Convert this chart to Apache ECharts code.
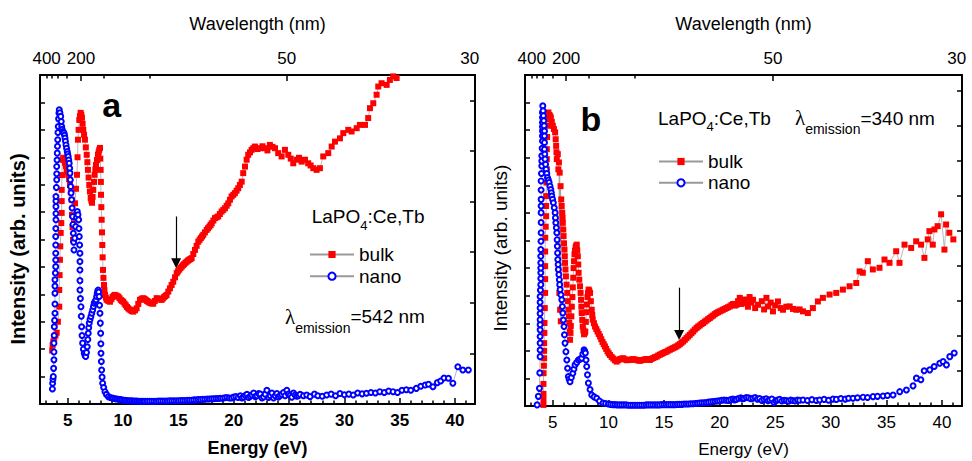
<!DOCTYPE html>
<html>
<head>
<meta charset="utf-8">
<script src="https://cdn.jsdelivr.net/npm/echarts@6/dist/echarts.min.js"></script>
<style>
  html, body { margin: 0; padding: 0; background: #fff; }
  #chart { width: 972px; height: 461px; }
</style>
</head>
<body>
<div id="chart"></div>
<script>
// Excitation spectra of LaPO4:Ce,Tb (bulk vs nano), two panels.
// Each point is [photon energy (eV), intensity (arb. units)].

const bulkA = [
  [3.60,1.95],[3.64,2.15],[3.70,2.28],[3.79,2.41],[3.90,2.50],[4.01,2.60],[4.12,3.00],[4.24,3.55],[4.24,4.16],
  [4.27,4.70],[4.30,5.26],[4.33,5.75],[4.37,6.24],[4.42,6.60],[4.46,6.97],[4.46,7.40],[4.46,7.81],[4.49,8.35],
  [4.51,8.91],[4.60,8.98],[4.68,8.90],[4.76,8.80],[4.84,8.68],[4.91,8.54],[4.98,8.45],[5.05,8.36],[5.13,8.20],
  [5.21,7.99],[5.29,7.72],[5.36,7.45],[5.39,6.90],[5.44,6.45],[5.48,5.99],[5.57,6.65],[5.66,7.32],[5.75,7.85],
  [5.84,8.36],[5.89,9.00],[5.93,9.64],[5.99,10.00],[6.05,10.36],[6.11,10.50],[6.17,10.62],[6.23,10.55],[6.29,10.44],
  [6.35,10.22],[6.41,10.00],[6.48,9.82],[6.56,9.64],[6.64,9.36],[6.72,9.09],[6.78,8.82],[6.83,8.54],[6.89,8.26],
  [6.95,7.99],[7.01,7.75],[7.08,7.52],[7.14,7.42],[7.20,7.34],[7.25,7.55],[7.31,7.81],[7.38,8.10],[7.44,8.36],
  [7.50,8.55],[7.56,8.72],[7.65,8.90],[7.74,9.09],[7.80,9.18],[7.85,9.27],[7.92,9.34],[7.95,8.95],[7.98,8.54],
  [8.00,8.10],[8.01,7.63],[8.04,7.18],[8.07,6.72],[8.10,6.26],[8.13,5.80],[8.16,5.35],[8.19,4.89],[8.23,4.60],
  [8.28,4.34],[8.32,4.15],[8.37,3.98],[8.45,3.88],[8.52,3.80],[8.67,3.76],[8.82,3.73],[8.95,3.82],[9.05,3.90],
  [9.16,3.95],[9.27,3.98],[9.42,3.95],[9.57,3.92],[9.68,3.86],[9.80,3.80],[9.91,3.76],[10.02,3.73],[10.14,3.66],
  [10.25,3.60],[10.36,3.54],[10.47,3.49],[10.58,3.45],[10.70,3.42],[10.81,3.39],[10.93,3.37],[11.08,3.42],[11.23,3.49],
  [11.38,3.65],[11.53,3.80],[11.68,3.84],[11.83,3.86],[11.94,3.83],[12.05,3.80],[12.17,3.76],[12.28,3.73],[12.39,3.70],
  [12.50,3.68],[12.62,3.67],[12.73,3.66],[12.88,3.76],[13.04,3.86],[13.15,3.84],[13.27,3.83],[13.38,3.81],[13.49,3.80],
  [13.60,3.85],[13.72,3.90],[13.83,3.94],[13.94,3.98],[14.09,4.10],[14.24,4.22],[14.39,4.34],[14.54,4.46],[14.70,4.62],
  [14.85,4.77],[14.96,4.84],[15.08,4.90],[15.19,4.96],[15.30,5.01],[15.41,5.06],[15.52,5.10],[15.64,5.15],[15.75,5.19],
  [15.87,5.23],[15.98,5.26],[16.09,5.29],[16.20,5.32],[16.35,5.47],[16.50,5.62],[16.65,5.77],[16.80,5.92],[16.92,5.99],
  [17.03,6.05],[17.14,6.11],[17.25,6.17],[17.40,6.26],[17.56,6.35],[17.68,6.41],[17.80,6.47],[17.91,6.53],[18.01,6.59],
  [18.16,6.69],[18.31,6.78],[18.46,6.81],[18.60,6.84],[18.75,6.93],[18.91,7.02],[19.06,7.08],[19.21,7.14],[19.36,7.23],
  [19.51,7.32],[19.66,7.45],[19.81,7.57],[19.96,7.63],[20.11,7.69],[20.26,7.78],[20.41,7.87],[20.56,7.99],[20.72,8.11],
  [20.86,8.42],[21.02,8.66],[21.17,8.91],[21.31,9.09],[21.47,9.18],[21.62,9.27],[21.77,9.33],[21.92,9.39],[22.15,9.30],
  [22.37,9.33],[22.60,9.40],[22.82,9.33],[23.05,9.25],[23.27,9.45],[23.50,9.38],[23.73,9.33],[24.02,9.15],[24.33,9.03],
  [24.63,9.27],[24.93,9.09],[25.15,8.95],[25.38,8.78],[25.69,8.91],[25.90,8.98],[26.14,8.84],[26.44,8.91],[26.73,8.78],
  [26.95,8.70],[27.19,8.60],[27.49,8.54],[27.79,8.60],[28.09,9.03],[28.54,9.15],[28.85,9.39],[29.15,9.57],[29.60,9.69],
  [29.90,9.88],[30.35,10.00],[30.65,9.94],[31.11,10.06],[31.40,10.18],[31.86,10.18],[32.15,10.43],[32.31,10.79],
  [32.61,10.97],[32.91,11.28],[33.06,11.58],[33.36,11.70],[33.82,11.64],[34.11,11.82],[34.41,11.95],[34.72,11.89]
];

const nanoA = [
  [3.62,0.55],[3.64,0.76],[3.67,0.90],[3.70,1.00],[3.73,1.30],[3.76,1.61],[3.76,1.90],[3.76,2.22],[3.78,2.50],
  [3.79,2.82],[3.82,3.05],[3.85,3.31],[3.85,3.65],[3.85,4.04],[3.85,4.30],[3.85,4.53],[3.89,4.78],[3.92,5.01],
  [3.92,5.25],[3.92,5.50],[3.92,5.80],[3.92,6.11],[3.93,6.40],[3.94,6.72],[3.94,6.95],[3.94,7.20],[3.94,7.40],
  [3.94,7.57],[3.98,7.90],[4.01,8.18],[4.01,8.40],[4.01,8.66],[4.04,8.90],[4.06,9.15],[4.08,9.40],[4.10,9.64],
  [4.12,9.90],[4.15,10.12],[4.18,10.40],[4.21,10.61],[4.24,10.73],[4.30,10.62],[4.37,10.49],[4.42,10.30],[4.46,10.12],
  [4.50,10.02],[4.55,9.94],[4.61,9.90],[4.67,9.88],[4.72,9.80],[4.76,9.70],[4.80,9.58],[4.85,9.45],[4.90,9.33],
  [4.96,9.21],[5.00,9.12],[5.05,9.03],[5.10,8.90],[5.14,8.78],[5.18,8.60],[5.21,8.42],[5.24,8.18],[5.27,7.93],
  [5.31,7.70],[5.36,7.45],[5.40,7.15],[5.45,6.84],[5.48,6.55],[5.51,6.23],[5.54,5.90],[5.57,5.62],[5.64,6.05],
  [5.72,6.47],[5.80,6.80],[5.87,7.02],[5.93,6.90],[5.99,6.72],[6.02,6.40],[6.05,6.11],[6.08,5.80],[6.11,5.50],
  [6.11,5.20],[6.11,4.89],[6.11,4.50],[6.11,4.16],[6.15,3.85],[6.20,3.55],[6.23,3.20],[6.26,2.82],[6.30,2.50],
  [6.35,2.22],[6.42,2.00],[6.50,1.85],[6.57,1.77],[6.63,1.73],[6.70,1.88],[6.77,2.09],[6.82,2.35],[6.86,2.58],
  [6.90,2.78],[6.95,2.95],[7.02,3.08],[7.10,3.19],[7.18,3.31],[7.26,3.43],[7.33,3.56],[7.40,3.68],[7.48,3.74],
  [7.56,3.80],[7.62,3.92],[7.67,4.04],[7.72,4.12],[7.76,4.16],[7.80,4.08],[7.85,3.92],[7.88,3.60],[7.92,3.31],
  [7.95,2.95],[7.98,2.58],[8.00,2.20],[8.01,1.85],[8.04,1.55],[8.07,1.24],[8.11,0.98],[8.16,0.76],[8.25,0.60],
  [8.37,0.45],[8.50,0.35],[8.67,0.27],[8.85,0.24],[9.00,0.22],[9.12,0.21],[9.30,0.19],[9.45,0.18],[9.60,0.17],
  [9.75,0.16],[9.90,0.15],[10.05,0.14],[10.20,0.14],[10.35,0.13],[10.50,0.12],[10.65,0.12],[10.80,0.12],[10.95,0.11],
  [11.10,0.11],[11.25,0.11],[11.40,0.10],[11.55,0.10],[11.70,0.10],[11.85,0.10],[12.00,0.10],[12.20,0.10],[12.40,0.10],
  [12.60,0.10],[12.80,0.10],[13.00,0.10],[13.20,0.11],[13.40,0.11],[13.60,0.11],[13.80,0.11],[14.00,0.11],[14.20,0.12],
  [14.40,0.12],[14.60,0.12],[14.80,0.12],[15.00,0.12],[15.20,0.13],[15.40,0.13],[15.60,0.13],[15.80,0.14],[16.00,0.14],
  [16.20,0.14],[16.40,0.15],[16.60,0.15],[16.80,0.16],[17.00,0.16],[17.20,0.17],[17.40,0.17],[17.60,0.18],[17.80,0.18],
  [18.00,0.19],[18.20,0.19],[18.40,0.20],[18.60,0.20],[18.80,0.21],[19.00,0.21],[19.20,0.23],[19.40,0.24],[19.60,0.22],
  [19.80,0.22],[20.00,0.25],[20.20,0.27],[20.40,0.24],[20.60,0.30],[20.75,0.22],[20.90,0.25],[21.05,0.31],[21.20,0.35],
  [21.35,0.24],[21.50,0.28],[21.65,0.33],[21.80,0.40],[21.95,0.27],[22.10,0.30],[22.25,0.38],[22.40,0.36],[22.55,0.22],
  [22.70,0.26],[22.85,0.36],[23.00,0.50],[23.15,0.24],[23.30,0.30],[23.45,0.40],[23.60,0.22],[23.75,0.30],[23.90,0.38],
  [24.05,0.26],[24.20,0.30],[24.35,0.35],[24.50,0.42],[24.65,0.30],[24.80,0.50],[24.95,0.36],[25.10,0.32],[25.25,0.25],
  [25.40,0.40],[25.55,0.33],[25.70,0.28],[25.85,0.30],[26.00,0.35],[26.30,0.30],[26.60,0.33],[26.90,0.27],[27.30,0.36],
  [27.60,0.30],[28.00,0.28],[28.40,0.33],[28.80,0.36],[29.20,0.30],[29.60,0.38],[30.00,0.34],[30.40,0.36],[30.80,0.33],
  [31.20,0.40],[31.60,0.37],[32.00,0.39],[32.40,0.42],[32.80,0.40],[33.20,0.45],[33.60,0.42],[34.00,0.47],[34.40,0.45],
  [34.80,0.42],[35.20,0.50],[35.60,0.52],[36.00,0.50],[36.50,0.57],[36.90,0.65],[37.30,0.69],[37.60,0.72],[38.00,0.63],
  [38.40,0.78],[38.70,0.84],[39.00,0.95],[39.40,0.94],[39.80,0.76],[40.25,1.36],[40.70,1.24],[41.20,1.24]
];

const bulkB = [
  [4.16,0.04],[4.16,0.24],[4.16,0.44],[4.16,0.80],[4.17,1.19],[4.20,1.46],[4.22,1.73],[4.22,2.00],[4.22,2.28],
  [4.24,2.65],[4.25,3.01],[4.28,3.55],[4.31,4.10],[4.31,4.60],[4.31,5.07],[4.31,5.60],[4.32,6.10],[4.36,6.50],
  [4.40,6.88],[4.40,7.25],[4.40,7.61],[4.43,8.10],[4.46,8.58],[4.46,8.95],[4.46,9.31],[4.49,9.75],[4.52,10.16],
  [4.57,10.40],[4.61,10.64],[4.70,10.55],[4.76,10.50],[4.82,10.46],[4.91,10.30],[5.00,10.16],[5.10,10.04],[5.21,9.92],
  [5.26,9.67],[5.30,9.43],[5.33,9.20],[5.36,8.95],[5.45,9.13],[5.50,8.58],[5.55,8.83],[5.59,4.10],[5.62,8.46],
  [5.66,3.49],[5.70,7.97],[5.72,3.07],[5.76,7.49],[5.80,7.25],[5.85,7.01],[5.88,6.82],[5.90,6.64],[5.94,6.40],
  [5.97,6.16],[6.01,5.90],[6.05,5.67],[6.08,5.43],[6.10,5.19],[6.14,4.95],[6.18,4.70],[6.24,4.40],[6.30,4.10],
  [6.35,3.80],[6.40,3.49],[6.44,3.25],[6.48,3.01],[6.52,2.70],[6.55,2.40],[6.59,2.65],[6.62,2.90],[6.67,3.25],
  [6.71,3.60],[6.76,3.95],[6.80,4.30],[6.84,4.65],[6.87,5.00],[6.91,5.25],[6.95,5.50],[7.00,5.63],[7.05,5.75],
  [7.10,5.80],[7.15,5.85],[7.20,5.65],[7.25,5.43],[7.29,5.13],[7.32,4.83],[7.38,4.58],[7.45,4.34],[7.50,4.10],
  [7.54,3.85],[7.57,3.60],[7.60,3.37],[7.65,3.12],[7.69,2.88],[7.75,2.74],[7.81,2.60],[7.87,2.65],[7.92,2.70],
  [7.97,3.05],[8.02,3.40],[8.07,3.68],[8.12,3.95],[8.17,4.10],[8.22,4.22],[8.28,4.18],[8.35,4.10],[8.42,3.80],
  [8.50,3.49],[8.55,3.30],[8.59,3.13],[8.70,3.00],[8.80,2.88],[8.91,2.79],[9.02,2.70],[9.13,2.61],[9.25,2.52],
  [9.36,2.42],[9.47,2.32],[9.58,2.24],[9.69,2.16],[9.80,2.07],[9.92,1.98],[10.03,1.91],[10.14,1.85],[10.29,1.78],
  [10.44,1.72],[10.59,1.66],[10.74,1.61],[10.89,1.66],[11.04,1.70],[11.19,1.72],[11.34,1.73],[11.49,1.69],[11.64,1.66],
  [11.79,1.67],[11.94,1.67],[12.09,1.69],[12.24,1.70],[12.39,1.68],[12.54,1.67],[12.69,1.65],[12.84,1.64],[12.99,1.66],
  [13.13,1.67],[13.28,1.69],[13.43,1.70],[13.58,1.68],[13.73,1.67],[13.89,1.71],[14.04,1.74],[14.19,1.77],[14.34,1.79],
  [14.48,1.83],[14.63,1.86],[14.78,1.89],[14.93,1.92],[15.08,1.95],[15.23,1.97],[15.38,2.01],[15.53,2.04],[15.68,2.07],
  [15.83,2.10],[15.98,2.13],[16.13,2.16],[16.28,2.20],[16.42,2.24],[16.57,2.29],[16.72,2.34],[16.87,2.40],[17.02,2.46],
  [17.17,2.52],[17.32,2.58],[17.47,2.64],[17.62,2.70],[17.77,2.77],[17.93,2.83],[18.07,2.88],[18.22,2.92],[18.37,2.97],
  [18.52,3.01],[18.67,3.06],[18.82,3.10],[18.97,3.15],[19.12,3.19],[19.27,3.24],[19.42,3.28],[19.57,3.33],[19.72,3.37],
  [19.86,3.40],[20.01,3.43],[20.16,3.46],[20.31,3.49],[20.46,3.52],[20.61,3.55],[20.76,3.58],[20.91,3.61],[21.07,3.66],
  [21.22,3.70],[21.37,3.64],[21.52,3.67],[21.66,3.80],[21.81,3.92],[21.95,3.70],[22.10,3.78],[22.25,3.86],[22.41,3.73],
  [22.55,3.60],[22.70,3.95],[22.85,3.75],[23.01,3.85],[23.20,3.55],[23.46,3.67],[23.80,3.80],[24.00,3.50],[24.21,3.92],
  [24.35,3.61],[24.60,3.75],[24.80,3.43],[25.00,3.65],[25.25,3.79],[25.50,3.55],[25.70,3.49],[26.00,3.60],[26.30,3.61],
  [26.60,3.52],[26.90,3.49],[27.20,3.50],[27.50,3.43],[27.94,3.37],[28.39,3.55],[28.84,3.79],[29.29,3.92],[29.89,4.04],
  [30.49,4.10],[31.09,4.22],[31.69,4.34],[32.29,4.46],[32.59,4.88],[32.88,4.83],[33.33,5.25],[33.78,4.95],[34.38,5.01],
  [34.83,5.31],[35.28,5.19],[35.88,5.61],[36.18,5.19],[36.63,5.85],[37.23,5.73],[37.68,5.97],[38.12,5.85],[38.42,5.37],
  [38.72,6.04],[38.87,6.34],[39.17,5.85],[39.32,6.40],[39.61,6.52],[39.92,6.95],[40.22,5.67],[40.37,6.58],[40.66,6.28],
  [41.02,6.04]
];

const nanoB = [
  [3.59,0.04],[3.70,0.35],[3.80,0.64],[3.83,1.20],[3.86,1.79],[3.86,2.03],[3.86,2.28],[3.86,2.52],[3.86,2.76],
  [3.86,2.95],[3.86,3.13],[3.86,3.35],[3.86,3.55],[3.86,3.76],[3.86,3.97],[3.89,4.20],[3.92,4.40],[3.92,4.62],
  [3.92,4.83],[3.92,5.00],[3.92,5.19],[3.92,5.43],[3.92,5.67],[3.94,5.97],[3.95,6.28],[3.95,6.65],[3.95,7.01],
  [3.95,7.25],[3.95,7.49],[3.95,7.83],[3.95,8.16],[3.98,8.43],[4.01,8.70],[4.01,8.88],[4.01,9.07],[4.04,9.34],
  [4.07,9.61],[4.07,9.79],[4.07,9.97],[4.07,10.12],[4.07,10.28],[4.07,10.46],[4.07,10.64],[4.10,10.88],[4.13,10.70],
  [4.16,10.52],[4.19,10.34],[4.22,10.16],[4.25,9.97],[4.25,9.79],[4.25,9.55],[4.25,9.31],[4.28,9.13],[4.31,8.95],
  [4.35,8.76],[4.40,8.58],[4.46,8.43],[4.52,8.28],[4.60,8.19],[4.67,8.10],[4.75,7.97],[4.82,7.85],[4.87,7.73],
  [4.91,7.61],[4.98,7.49],[5.05,7.37],[5.13,7.19],[5.21,7.01],[5.24,6.82],[5.27,6.64],[5.32,6.46],[5.36,6.28],
  [5.39,6.03],[5.41,5.79],[5.43,5.55],[5.45,5.31],[5.48,5.13],[5.50,4.95],[5.55,4.77],[5.59,4.58],[5.62,4.40],
  [5.66,4.22],[5.73,4.03],[5.81,3.85],[5.86,3.61],[5.90,3.37],[5.95,3.12],[6.01,2.88],[6.05,2.58],[6.10,2.28],
  [6.18,1.97],[6.26,1.67],[6.33,1.37],[6.40,1.07],[6.47,0.97],[6.55,0.88],[6.67,1.03],[6.80,1.19],[6.90,1.34],
  [7.00,1.49],[7.15,1.58],[7.30,1.67],[7.45,1.70],[7.60,1.73],[7.70,1.88],[7.81,2.04],[7.87,1.98],[7.93,1.92],
  [7.99,1.67],[8.05,1.43],[8.12,1.13],[8.20,0.83],[8.35,0.60],[8.50,0.40],[8.72,0.33],[8.95,0.28],[9.20,0.18],
  [9.52,0.11],[9.75,0.09],[10.00,0.07],[10.20,0.06],[10.40,0.05],[10.60,0.05],[10.80,0.04],[11.00,0.04],[11.20,0.04],
  [11.40,0.04],[11.60,0.04],[11.80,0.03],[12.00,0.03],[12.20,0.03],[12.40,0.03],[12.60,0.03],[12.80,0.03],[13.00,0.03],
  [13.20,0.03],[13.40,0.04],[13.60,0.04],[13.80,0.04],[14.00,0.04],[14.20,0.04],[14.40,0.04],[14.60,0.04],[14.80,0.05],
  [15.00,0.05],[15.20,0.05],[15.40,0.05],[15.60,0.05],[15.80,0.05],[16.00,0.05],[16.20,0.06],[16.40,0.06],[16.60,0.06],
  [16.80,0.07],[17.00,0.07],[17.20,0.07],[17.40,0.08],[17.60,0.08],[17.80,0.09],[18.00,0.10],[18.20,0.11],[18.40,0.12],
  [18.60,0.12],[18.80,0.13],[19.00,0.14],[19.20,0.15],[19.40,0.16],[19.60,0.17],[19.80,0.18],[20.00,0.19],[20.20,0.21],
  [20.40,0.22],[20.60,0.21],[20.80,0.20],[21.00,0.23],[21.20,0.25],[21.35,0.22],[21.50,0.24],[21.70,0.27],[21.90,0.30],
  [22.05,0.26],[22.20,0.27],[22.40,0.31],[22.60,0.30],[22.80,0.26],[23.00,0.28],[23.20,0.31],[23.40,0.25],[23.60,0.27],
  [23.80,0.20],[24.00,0.24],[24.20,0.26],[24.35,0.19],[24.50,0.22],[24.70,0.25],[24.90,0.13],[25.05,0.19],[25.20,0.22],
  [25.40,0.24],[25.60,0.18],[25.80,0.21],[26.00,0.20],[26.20,0.17],[26.40,0.22],[26.60,0.20],[26.80,0.18],[27.00,0.22],
  [27.20,0.21],[27.50,0.22],[27.90,0.20],[28.30,0.23],[28.70,0.20],[29.00,0.22],[29.40,0.24],[29.80,0.21],[30.20,0.25],
  [30.50,0.24],[30.90,0.27],[31.30,0.25],[31.60,0.28],[32.00,0.28],[32.40,0.30],[32.90,0.32],[33.30,0.31],[33.80,0.34],
  [34.20,0.35],[34.70,0.36],[35.10,0.38],[35.60,0.40],[36.20,0.52],[36.80,0.58],[37.40,0.73],[37.70,1.01],[38.10,0.95],
  [38.40,1.28],[38.90,1.31],[39.30,1.43],[39.80,1.55],[40.10,1.61],[40.40,1.49],[40.70,1.79],[41.10,1.92]
];

// Energy axis (bottom) ticks, eV
const energyLabels = [5, 10, 15, 20, 25, 30, 35, 40];
const energyMinor = [3,4,6,7,8,9,11,12,13,14,16,17,18,19,21,22,23,24,26,27,28,29,31,32,33,34,36,37,38,39,41];
// Wavelength axis (top) ticks, nm
const wavelengthLabels = [400, 200, 50, 30];
const wavelengthMajor = [200, 50];
const wavelengthMinor = [400, 350, 300, 250, 150, 100];

// Arrows marking the onset feature: [energy, start intensity, end intensity]
const arrowA = [14.8, 6.84, 5.13];
const arrowB = [16.36, 4.29, 2.57];

const HC = 1239.84; // eV*nm
const toEnergy = nm => HC / nm;
const FONT = "'Liberation Sans', Arial, Helvetica, sans-serif";
const E_MIN = 2.5, E_MAX = 41.8;

function bottomAxis(gridIndex, bold, major) {
  return {
    type: 'value', gridIndex, position: 'bottom', min: E_MIN, max: E_MAX,
    axisLine: { show: major, onZero: false, lineStyle: { color: '#000', width: 2 } },
    axisTick: { show: true, inside: true, length: major ? 6 : 3.5,
      customValues: major ? energyLabels : energyMinor, lineStyle: { color: '#000', width: 1.5 } },
    axisLabel: { show: major, customValues: energyLabels, margin: 8, color: '#000',
      fontSize: 17, fontFamily: FONT, fontWeight: bold ? 'bold' : 'normal' },
    splitLine: { show: false },
    name: major ? 'Energy (eV)' : '', nameLocation: 'middle', nameGap: 35, nameMoveOverlap: false,
    nameTextStyle: { fontSize: bold ? 18 : 17, fontFamily: FONT, color: '#000', fontWeight: bold ? 'bold' : 'normal' }
  };
}

function topAxis(gridIndex, major) {
  return {
    type: 'value', gridIndex, position: 'top', min: E_MIN, max: E_MAX,
    axisLine: { show: major, onZero: false, lineStyle: { color: '#000', width: 2 } },
    axisTick: { show: true, inside: true, length: major ? 6 : 3.5,
      customValues: (major ? wavelengthMajor : wavelengthMinor).map(toEnergy),
      lineStyle: { color: '#000', width: 1.5 } },
    axisLabel: { show: major, customValues: wavelengthLabels.map(toEnergy), margin: 8, color: '#000',
      fontSize: 17, fontFamily: FONT, formatter: v => String(Math.round(HC / v)) },
    splitLine: { show: false },
    name: major ? 'Wavelength (nm)' : '', nameLocation: 'middle', nameGap: 42, nameMoveOverlap: false,
    nameTextStyle: { fontSize: 18, fontFamily: FONT, color: '#000' }
  };
}

function leftAxis(gridIndex) {
  return {
    type: 'value', gridIndex, position: 'left', min: 0, max: 12, interval: 1,
    axisLine: { show: true, onZero: false, lineStyle: { color: '#000', width: 2 } },
    axisTick: { show: true, inside: true, length: 5, lineStyle: { color: '#000', width: 1.5 } },
    axisLabel: { show: false }, splitLine: { show: false }
  };
}

function rightAxis(gridIndex, max) {
  return {
    type: 'value', gridIndex, position: 'right', min: 0, max: max, interval: 1,
    axisLine: { show: true, onZero: false, lineStyle: { color: '#000', width: 2 } },
    axisTick: { show: true, inside: true, length: 5, lineStyle: { color: '#000', width: 1.5 } },
    axisLabel: { show: false }, splitLine: { show: false }
  };
}

function arrow(a) {
  return {
    silent: true, animation: false,
    symbol: ['none', 'triangle'], symbolSize: 10,
    lineStyle: { color: '#000', width: 1.2, type: 'solid' },
    itemStyle: { color: '#000' },
    label: { show: false }, emphasis: { disabled: true },
    data: [[{ coord: [a[0], a[1]] }, { coord: [a[0], a[2]] }]]
  };
}

function bulkSeries(data, xi, yi, arr) {
  return {
    type: 'line', name: 'bulk', xAxisIndex: xi, yAxisIndex: yi, data,
    symbol: 'rect', symbolSize: 6, showSymbol: true, showAllSymbol: true,
    itemStyle: { color: '#ff0000' }, lineStyle: { color: '#999999', width: 0.7 },
    emphasis: { disabled: true }, clip: true, z: 2, markLine: arrow(arr)
  };
}

function nanoSeries(data, xi, yi) {
  return {
    type: 'line', name: 'nano', xAxisIndex: xi, yAxisIndex: yi, data,
    symbol: 'emptyCircle', symbolSize: 5, showSymbol: true, showAllSymbol: true,
    itemStyle: { color: '#0000ff', borderWidth: 1.5 }, lineStyle: { color: '#999999', width: 0.7 },
    emphasis: { disabled: true }, clip: true, z: 3
  };
}

function legendAt(left, top, gap) {
  return {
    show: true, data: ['bulk', 'nano'], orient: 'vertical', left, top, padding: 0,
    itemWidth: 44, itemHeight: 9, itemGap: gap, selectedMode: false,
    textStyle: { fontSize: 19, fontFamily: FONT, color: '#000', lineHeight: 19 }
  };
}

function yTitle(x, y, bold, size) {
  return {
    type: 'text', x, y, rotation: Math.PI / 2, silent: true,
    style: { text: 'Intensity (arb. units)', fontSize: size, fontWeight: bold ? 'bold' : 'normal',
      fontFamily: FONT, fill: '#000', align: 'center', verticalAlign: 'middle' }
  };
}

function formulaText(x, y) {
  return {
    type: 'text', x, y, silent: true,
    style: {
      text: '{m|LaPO}{s|4}{m|:Ce,Tb}', align: 'left', verticalAlign: 'middle',
      rich: {
        m: { fontSize: 19, fontFamily: FONT, fill: '#000', lineHeight: 30 },
        s: { fontSize: 13, fontFamily: FONT, fill: '#000', verticalAlign: 'bottom' }
      }
    }
  };
}

function emissionText(x, y, nm) {
  return {
    type: 'text', x, y, silent: true,
    style: {
      text: '{l|λ}{s|emission}{m|=' + nm + ' nm}', align: 'left', verticalAlign: 'middle',
      rich: {
        l: { fontSize: 21, fontFamily: "'Liberation Serif', 'DejaVu Serif', serif", fill: '#000', lineHeight: 36 },
        s: { fontSize: 14, fontFamily: FONT, fill: '#000', verticalAlign: 'bottom' },
        m: { fontSize: 19, fontFamily: FONT, fill: '#000', lineHeight: 36 }
      }
    }
  };
}

function panelLetter(x, y, t) {
  return {
    type: 'text', x, y, silent: true,
    style: { text: t, fontSize: 34, fontWeight: 'bold', fontFamily: FONT, fill: '#000',
      align: 'center', verticalAlign: 'middle' }
  };
}

const gridA = { left: 40, top: 75, width: 435, height: 329, containLabel: false, outerBoundsMode: 'none' };
const gridB = { left: 525, top: 75, width: 437, height: 331, containLabel: false, outerBoundsMode: 'none' };

const option = {
  animation: false,
  backgroundColor: '#fff',
  textStyle: { fontFamily: FONT },
  grid: [gridA, Object.assign({}, gridA), gridB, Object.assign({}, gridB)],
  xAxis: [
    bottomAxis(0, true, true), topAxis(0, true),
    bottomAxis(1, true, false), topAxis(1, false),
    bottomAxis(2, false, true), topAxis(2, true),
    bottomAxis(3, false, false), topAxis(3, false)
  ],
  yAxis: [
    leftAxis(0), rightAxis(0, 6.5), { type: 'value', gridIndex: 1, show: false, min: 0, max: 12 },
    leftAxis(2), rightAxis(2, 9.46), { type: 'value', gridIndex: 3, show: false, min: 0, max: 12 }
  ],
  legend: [legendAt(309, 245, 2.7), legendAt(658, 152, 2.3)],
  series: [
    bulkSeries(bulkA, 0, 0, arrowA),
    nanoSeries(nanoA, 0, 0),
    bulkSeries(bulkB, 4, 3, arrowB),
    nanoSeries(nanoB, 4, 3)
  ],
  graphic: [
    yTitle(18, 249, true, 20),
    yTitle(500, 248, false, 19),
    panelLetter(111.7, 105, 'a'),
    panelLetter(591, 119, 'b'),
    formulaText(311.7, 216.7),
    emissionText(285, 316.7, 542),
    formulaText(658, 118),
    emissionText(795, 118, 340)
  ]
};

const chart = echarts.init(document.getElementById('chart'), null, { renderer: 'svg' });
chart.setOption(option);
</script>
</body>
</html>
